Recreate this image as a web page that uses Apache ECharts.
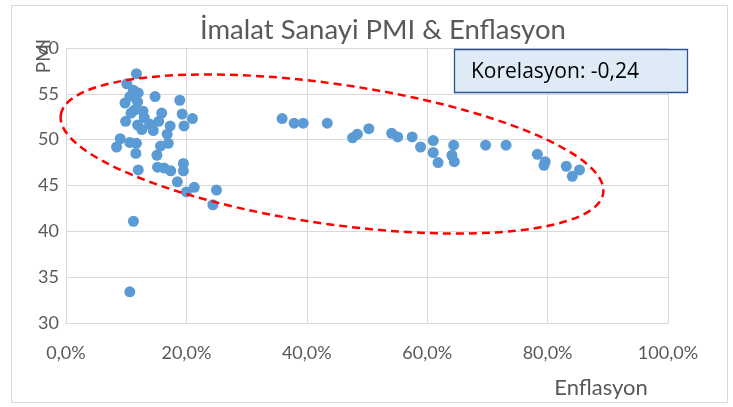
<!DOCTYPE html>
<html>
<head>
<meta charset="utf-8">
<script src="https://cdn.jsdelivr.net/npm/echarts@6/dist/echarts.min.js"></script>
<style>
html,body{margin:0;padding:0;background:#fff;}
#c{width:733px;height:407px;}
</style>
</head>
<body>
<div id="c"></div>
<script>
// Enflasyon (%), x values
const inflation = [
  11.7, 10.1, 11.2, 12.0, 14.8, 18.9, 9.8, 11.9, 12.8, 15.9, 19.3, 21.0,
  9.9, 11.9, 13.9, 14.5, 15.4, 17.3, 19.6, 16.8, 9.0, 8.4, 10.6, 11.7,
  11.6, 15.1, 15.7, 17.0, 19.5, 12.0, 15.2, 16.3, 17.4, 19.5, 18.5, 20.0,
  21.3, 25.0, 24.4, 11.2, 10.6, 11.3, 10.6, 10.8, 13.0, 12.6,
  35.9, 37.9, 39.4, 43.4, 47.6, 48.4, 50.3, 54.1, 55.1, 57.5, 58.9, 61.0,
  61.0, 61.8, 64.4, 64.1, 64.5, 69.7, 73.1, 78.3, 79.6, 79.4, 83.1, 84.1, 85.3
];
// İmalat Sanayi PMI, y values
const pmi = [
  57.2, 56.1, 55.4, 55.1, 54.7, 54.3, 54.0, 54.1, 53.1, 52.9, 52.8, 52.3,
  52.0, 51.6, 51.7, 51.0, 52.0, 51.5, 51.5, 50.6, 50.1, 49.2, 49.7, 49.6,
  48.5, 48.3, 49.3, 49.6, 47.4, 46.7, 47.0, 46.9, 46.6, 46.6, 45.4, 44.3,
  44.8, 44.5, 42.9, 41.1, 33.4, 53.2, 54.7, 52.9, 52.4, 51.1,
  52.3, 51.8, 51.8, 51.8, 50.2, 50.6, 51.2, 50.7, 50.3, 50.3, 49.2, 49.9,
  48.6, 47.5, 49.4, 48.3, 47.6, 49.4, 49.4, 48.4, 47.6, 47.2, 47.1, 46.0, 46.7
];
const xTicks = [0, 20, 40, 60, 80, 100];
const yTicks = [30, 35, 40, 45, 50, 55, 60];
const titleText = 'İmalat Sanayi PMI & Enflasyon';
const corrText = 'Korelasyon: -0,24';

const points = inflation.map((v, i) => [v, pmi[i]]);
const FONT = 'Lato, "Open Sans", sans-serif';
const TXT = '#595959';

const chart = echarts.init(document.getElementById('c'), null, {renderer: 'canvas'});
chart.setOption({
  animation: false,
  backgroundColor: '#ffffff',
  title: {
    text: titleText,
    left: 195,
    top: 11,
    textStyle: {fontFamily: FONT, fontWeight: 'normal', fontSize: 27.5, color: TXT}
  },
  grid: {left: 66, right: 65, top: 48, bottom: 84, containLabel: false},
  xAxis: {
    type: 'value',
    min: xTicks[0], max: xTicks[xTicks.length - 1], interval: 20,
    axisLine: {show: true, lineStyle: {color: '#D9D9D9', width: 1}},
    axisTick: {show: false},
    splitLine: {show: true, lineStyle: {color: '#D9D9D9', width: 1}},
    axisLabel: {
      margin: 21, fontFamily: FONT, fontSize: 18, color: TXT,
      formatter: v => v.toFixed(1).replace('.', ',') + '%'
    }
  },
  yAxis: {
    type: 'value',
    min: yTicks[0], max: yTicks[yTicks.length - 1], interval: 5,
    axisLine: {show: false},
    axisTick: {show: false},
    splitLine: {show: true, lineStyle: {color: '#D9D9D9', width: 1}},
    axisLabel: {margin: 7, fontFamily: FONT, fontSize: 18, color: TXT}
  },
  series: [{
    type: 'scatter',
    data: points,
    symbol: 'circle',
    symbolSize: 11,
    itemStyle: {color: '#5B9BD5', opacity: 1},
    z: 2
  }],
  graphic: [
    {
      type: 'rect', z: 0, silent: true,
      shape: {x: 11.5, y: 5.5, width: 716, height: 397},
      style: {fill: 'none', stroke: '#D9D9D9', lineWidth: 1}
    },
    {
      type: 'ellipse', z: 10, silent: true,
      x: 332, y: 154, rotation: -8.2 * Math.PI / 180,
      shape: {cx: 0, cy: 0, rx: 274, ry: 70},
      style: {fill: 'none', stroke: '#FF0000', lineWidth: 2.5, lineDash: [8, 5]}
    },
    {
      type: 'rect', z: 11, silent: true,
      shape: {x: 454.5, y: 49.5, width: 233, height: 43},
      style: {fill: '#DEEBF7', stroke: '#2F528F', lineWidth: 1.3}
    },
    {
      type: 'text', z: 12, silent: true,
      x: 471, y: 72,
      style: {text: corrText, fontFamily: '"Open Sans", Lato, sans-serif', fontSize: 21, fill: '#000000', verticalAlign: 'middle', align: 'left'}
    },
    {
      type: 'text', z: 12, silent: true,
      x: 44, y: 56, rotation: Math.PI / 2,
      style: {text: 'PMI', fontFamily: FONT, fontSize: 19, fill: TXT, align: 'center', verticalAlign: 'middle'}
    },
    {
      type: 'text', z: 12, silent: true,
      x: 601, y: 388,
      style: {text: 'Enflasyon', fontFamily: FONT, fontSize: 22, fill: TXT, align: 'center', verticalAlign: 'middle'}
    }
  ]
});
</script>
</body>
</html>
